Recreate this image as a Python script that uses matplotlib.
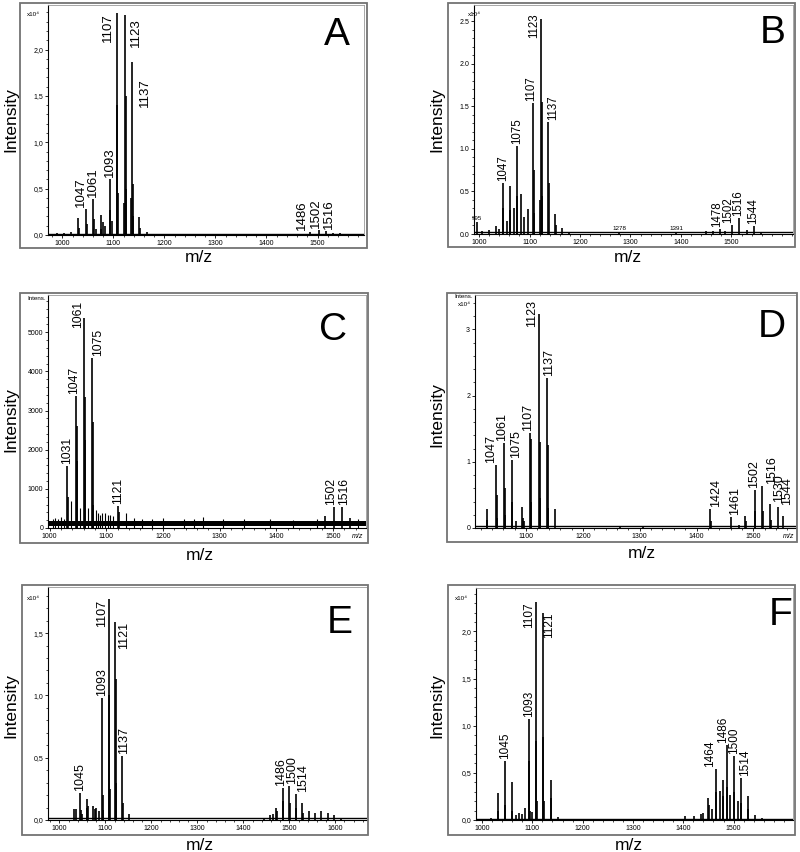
import matplotlib
matplotlib.use('Agg')
import matplotlib.pyplot as plt
from matplotlib.patches import Rectangle
from matplotlib.ticker import MultipleLocator, FixedLocator, FuncFormatter

plt.rcParams['font.family'] = ['Liberation Sans', 'DejaVu Sans']

# ---- data (intensity x10^4 except panel C, raw counts) ----
a_mz = [990, 1003, 1017, 1031, 1032, 1047, 1048, 1061, 1062, 1067, 1075, 1076, 1079, 1083,
        1093, 1094, 1097, 1107, 1108, 1109, 1121, 1123, 1124, 1125, 1135, 1137, 1138, 1139,
        1151, 1152, 1165, 1486, 1502, 1516, 1530, 1544]
a_int = [0.02, 0.02, 0.03, 0.18, 0.08, 0.28, 0.12, 0.39, 0.17, 0.06, 0.22, 0.07, 0.14, 0.10,
         0.60, 0.27, 0.15, 2.39, 1.40, 0.45, 0.35, 2.37, 1.50, 0.50, 0.40, 1.87, 0.55, 0.20,
         0.19, 0.08, 0.03, 0.03, 0.05, 0.04, 0.02, 0.02]
a_labels = [1047, 1061, 1093, 1107, 1123, 1137, 1486, 1502, 1516]

b_mz = [995, 1005, 1019, 1033, 1040, 1047, 1048, 1055, 1061, 1062, 1069, 1075, 1076, 1083,
        1089, 1097, 1107, 1108, 1109, 1121, 1123, 1124, 1125, 1137, 1138, 1151, 1152, 1165,
        1179, 1278, 1391, 1450, 1464, 1478, 1488, 1502, 1516, 1530, 1544, 1558]
b_int = [0.14, 0.03, 0.05, 0.09, 0.06, 0.60, 0.30, 0.15, 0.56, 0.28, 0.30, 1.03, 0.45, 0.47,
         0.20, 0.29, 1.54, 0.75, 0.25, 0.40, 2.52, 1.55, 0.45, 1.31, 0.60, 0.23, 0.10, 0.07,
         0.02, 0.02, 0.02, 0.04, 0.03, 0.06, 0.04, 0.10, 0.19, 0.05, 0.09, 0.02]
b_labels = [995, 1047, 1075, 1107, 1123, 1137, 1278, 1391, 1478, 1502, 1516, 1544]

c_mz = [1031, 1032, 1047, 1048, 1049, 1061, 1062, 1063, 1075, 1076, 1077, 1121, 1122,
        1486, 1502, 1516, 1530]
c_int = [1573, 800, 3359, 2600, 1700, 5357, 3350, 2250, 4337, 2700, 600, 550, 400,
         300, 530, 530, 250]
c_noise_mz = [1006, 1010, 1015, 1020, 1025, 1037, 1053, 1067, 1081, 1085, 1089, 1093, 1097,
              1103, 1107, 1111, 1135, 1149, 1163, 1181, 1199, 1237, 1255, 1271, 1305, 1343,
              1388, 1430, 1472, 1544]
c_noise_int = [240, 250, 230, 270, 240, 700, 500, 500, 450, 380, 330, 380, 380,
               320, 340, 300, 380, 250, 240, 230, 250, 230, 240, 270, 230, 220,
               220, 210, 240, 230]
c_band = (40, 190)
c_labels = [1031, 1047, 1061, 1075, 1121, 1502, 1516]

d_mz = [1031, 1032, 1047, 1048, 1049, 1061, 1062, 1063, 1075, 1076, 1083, 1093, 1094, 1097,
        1107, 1108, 1109, 1123, 1124, 1125, 1137, 1138, 1139, 1151, 1265, 1305, 1424, 1425,
        1461, 1474, 1486, 1487, 1502, 1503, 1516, 1517, 1530, 1531, 1544, 1552]
d_int = [0.28, 0.12, 0.95, 0.50, 0.15, 1.28, 0.60, 0.20, 1.03, 0.40, 0.10, 0.31, 0.15, 0.10,
         1.43, 1.35, 0.40, 3.24, 1.30, 0.45, 2.26, 1.25, 0.30, 0.28, 0.03, 0.02, 0.28, 0.10,
         0.16, 0.04, 0.18, 0.10, 0.58, 0.25, 0.63, 0.25, 0.37, 0.12, 0.31, 0.18]
d_labels = [1047, 1061, 1075, 1107, 1123, 1137, 1424, 1461, 1502, 1516, 1530, 1544]

e_mz = [1031, 1035, 1045, 1046, 1049, 1059, 1060, 1063, 1073, 1077, 1079, 1087, 1093, 1094,
        1095, 1107, 1108, 1109, 1121, 1122, 1123, 1137, 1138, 1151, 1444, 1458, 1464, 1472,
        1473, 1486, 1487, 1500, 1501, 1514, 1515, 1528, 1529, 1542, 1556, 1570, 1584, 1598, 1612]
e_int = [0.09, 0.09, 0.22, 0.08, 0.05, 0.17, 0.10, 0.11, 0.11, 0.09, 0.10, 0.07, 0.98, 0.20,
         0.08, 1.77, 1.00, 0.25, 1.59, 1.13, 0.30, 0.51, 0.14, 0.05, 0.02, 0.04, 0.05, 0.10,
         0.07, 0.26, 0.15, 0.27, 0.14, 0.21, 0.10, 0.14, 0.06, 0.07, 0.06, 0.07, 0.06, 0.04, 0.02]
e_labels = [1045, 1093, 1107, 1121, 1137, 1486, 1500, 1514]

f_mz = [1017, 1031, 1032, 1045, 1046, 1059, 1060, 1067, 1073, 1079, 1085, 1093, 1094, 1095,
        1099, 1107, 1108, 1109, 1121, 1122, 1123, 1137, 1138, 1151, 1404, 1422, 1436, 1440,
        1450, 1451, 1458, 1464, 1465, 1472, 1478, 1479, 1486, 1487, 1492, 1500, 1501, 1508,
        1514, 1515, 1528, 1529, 1542, 1556]
f_int = [0.02, 0.29, 0.10, 0.63, 0.16, 0.40, 0.10, 0.05, 0.07, 0.06, 0.13, 1.07, 0.63, 0.10,
         0.08, 2.31, 0.84, 0.20, 2.20, 0.88, 0.20, 0.42, 0.23, 0.03, 0.04, 0.04, 0.06, 0.07,
         0.23, 0.16, 0.12, 0.54, 0.30, 0.31, 0.42, 0.25, 0.79, 0.35, 0.26, 0.68, 0.30, 0.20,
         0.45, 0.18, 0.25, 0.12, 0.05, 0.02]
f_labels = [1045, 1093, 1107, 1121, 1464, 1486, 1500, 1514]

# ---- layout ----
W, H = 800, 852
fig = plt.figure(figsize=(W / 100, H / 100), dpi=100)
PT = 0.72  # points per pixel


def fx(x):
    return x / W


def fy(y):
    return 1 - y / H


comma = FuncFormatter(lambda v, _: ('%.1f' % v).replace('.', ','))
dot = FuncFormatter(lambda v, _: '%.1f' % v)
whole = FuncFormatter(lambda v, _: '%d' % v)

# label placement: mz -> (ha, va, dx px, dy px); default is centred above the peak
panels = [
    dict(mz=a_mz, inten=a_int, labels=a_labels, letter='A',
         frame=(20, 3, 367, 248), box=(48, 5, 364, 235), xlim=(972, 1591), ylim=2.48,
         xticks=range(1000, 1501, 100), ystep=0.5, yminor=0.1, fmt=comma, base=0.015,
         letter_xy=(337, 35), ylab=(11, 120), xlab=(199, 257), unit=[('x10⁴', 40, 15)],
         place={1047: ('right', 'bottom', 1, 2), 1107: ('right', 'top', -3, 0),
                1123: ('left', 'top', 5, -3), 1137: ('left', 'top', 7, -17),
                1486: ('center', 'bottom', -8, 2), 1502: ('center', 'bottom', -3, 2),
                1516: ('center', 'bottom', 3, 2)}, lsize=9.5),
    dict(mz=b_mz, inten=b_int, labels=b_labels, letter='B',
         frame=(448, 3, 795, 247), box=(474, 5, 793, 234), xlim=(990, 1622), ylim=2.69,
         xticks=range(1000, 1501, 100), ystep=0.5, yminor=0.1, fmt=dot, base=0.02,
         letter_xy=(773, 33), ylab=(437, 120), xlab=(628, 258), unit=[('x10⁴', 481, 14)],
         place={995: 'small', 1278: 'small', 1391: 'small',
                1107: ('center', 'bottom', -2, 2), 1123: ('right', 'top', -1, 6),
                1137: ('left', 'bottom', -1, 2), 1478: ('center', 'bottom', -3, 2),
                1502: ('center', 'bottom', -4.5, 2), 1516: ('center', 'bottom', -1.5, 2)},
         lsize=8.3),
    dict(mz=c_mz, inten=c_int, labels=c_labels, letter='C',
         frame=(20, 293, 368, 543), box=(48, 295, 366, 528), xlim=(997, 1558), ylim=5950,
         xticks=range(1000, 1501, 100), ystep=1000, yminor=200, fmt=whole, base=None,
         letter_xy=(333, 330), ylab=(11, 420), xlab=(200, 555), unit=[('Intens.', 46, 299)],
         place={1047: ('center', 'bottom', -2, 2), 1061: ('right', 'bottom', 0, -10),
                1075: ('left', 'bottom', 0, 2), 1502: ('center', 'bottom', -3.5, 2),
                1516: ('center', 'bottom', 1.5, 2)}, lsize=8.7, tag=(358, 536)),
    dict(mz=d_mz, inten=d_int, labels=d_labels, letter='D',
         frame=(447, 293, 797, 542), box=(475, 295, 796, 528), xlim=(1010, 1575), ylim=3.52,
         xticks=range(1100, 1501, 100), ystep=1, yminor=0.2, fmt=whole, base=0.03,
         letter_xy=(772, 327), ylab=(437, 415), xlab=(642, 553),
         unit=[('Intens.', 473, 296), ('x10⁴', 471, 304)],
         place={1047: ('center', 'bottom', -5, 2), 1061: ('center', 'bottom', -2, 2),
                1075: ('center', 'bottom', 4.5, 2), 1107: ('center', 'bottom', -2, 2),
                1123: ('right', 'center', -1, 0), 1137: ('center', 'bottom', 1.5, 2),
                1424: ('center', 'bottom', 6, 2), 1461: ('center', 'bottom', 4, 2),
                1516: ('center', 'bottom', 9.5, 2), 1530: ('center', 'bottom', 8.5, 2),
                1544: ('center', 'bottom', 9, 2)}, lsize=9.0, tag=(789, 536)),
    dict(mz=e_mz, inten=e_int, labels=e_labels, letter='E',
         frame=(22, 585, 368, 835), box=(48, 587, 367, 820), xlim=(975, 1669), ylim=1.87,
         xticks=range(1000, 1601, 100), ystep=0.5, yminor=0.1, fmt=comma, base=0.015,
         letter_xy=(340, 623), ylab=(11, 706), xlab=(200, 845), unit=[('x10⁴', 40, 599)],
         place={1107: ('right', 'top', -1, 0), 1121: ('left', 'top', 3, 0),
                1137: ('center', 'bottom', 1.5, 2), 1486: ('center', 'bottom', -1.5, 2),
                1500: ('center', 'bottom', 2.5, 2), 1514: ('center', 'bottom', 7, 2)},
         lsize=9.0),
    dict(mz=f_mz, inten=f_int, labels=f_labels, letter='F',
         frame=(448, 585, 795, 835), box=(476, 588, 793, 820), xlim=(988, 1618), ylim=2.46,
         xticks=range(1000, 1501, 100), ystep=0.5, yminor=0.1, fmt=comma, base=0.015,
         letter_xy=(781, 615), ylab=(437, 706), xlab=(629, 845), unit=[('x10⁴', 468, 599)],
         place={1107: ('right', 'top', -1, 0), 1121: ('left', 'top', 0, 0),
                1464: ('center', 'bottom', -5.5, 2), 1486: ('center', 'bottom', -4, 2),
                1514: ('center', 'bottom', 4, 2)}, lsize=8.5),
]

for p in panels:
    x0, y0, x1, y1 = p['frame']
    fig.add_artist(Rectangle((fx(x0), fy(y1)), fx(x1 - x0), (y1 - y0) / H,
                             transform=fig.transFigure, fill=False, ec='0.45', lw=1.3))
    bx0, by0, bx1, by1 = p['box']
    ax = fig.add_axes([fx(bx0), fy(by1), fx(bx1 - bx0), (by1 - by0) / H])
    ax.set_xlim(*p['xlim'])
    ax.set_ylim(0, p['ylim'])

    if p['base'] is not None:
        ax.axhline(p['base'], color='k', lw=1.0)
    else:
        ax.fill_between(p['xlim'], c_band[0], c_band[1], color='k', lw=0)
        ax.vlines(c_noise_mz, 0, c_noise_int, color='k', lw=0.8)
    ax.vlines(p['mz'], 0, p['inten'], color='k', lw=1.2)

    for m in p['labels']:
        h = p['inten'][p['mz'].index(m)]
        pl = p['place'].get(m, ('center', 'bottom', 0, 2))
        if pl == 'small':
            ax.annotate(str(m), (m, h), xytext=(0, 1), textcoords='offset points',
                        ha='center', va='bottom', fontsize=4.5)
            continue
        ha, va, dx, dy = pl
        ax.annotate(str(m), (m, h), xytext=(dx * PT, dy * PT), textcoords='offset points',
                    rotation=90, ha=ha, va=va, fontsize=p['lsize'])

    ax.xaxis.set_major_locator(FixedLocator(list(p['xticks'])))
    ax.xaxis.set_minor_locator(MultipleLocator(20))
    ax.yaxis.set_major_locator(MultipleLocator(p['ystep']))
    ax.yaxis.set_minor_locator(MultipleLocator(p['yminor']))
    ax.yaxis.set_major_formatter(p['fmt'])
    ax.tick_params(which='major', direction='out', length=2.5, width=0.6, labelsize=5, pad=1)
    ax.tick_params(which='minor', direction='out', length=1.3, width=0.5)
    for sp in ('left', 'bottom'):
        ax.spines[sp].set_linewidth(0.8)
    for sp in ('top', 'right'):
        ax.spines[sp].set_color('0.6')
        ax.spines[sp].set_linewidth(0.6)

    lx, ly = p['letter_xy']
    fig.text(fx(lx), fy(ly), p['letter'], fontsize=28, ha='center', va='center')
    fig.text(fx(p['ylab'][0]), fy(p['ylab'][1]), 'Intensity', rotation=90,
             ha='center', va='center', fontsize=12.5)
    fig.text(fx(p['xlab'][0]), fy(p['xlab'][1]), 'm/z', ha='center', va='center',
             fontsize=12.5)
    for t, ux, uy in p['unit']:
        fig.text(fx(ux), fy(uy), t, ha='right', va='center', fontsize=4.5)
    if 'tag' in p:
        fig.text(fx(p['tag'][0]), fy(p['tag'][1]), 'm/z', ha='center', va='center',
                 fontsize=5, style='italic')

fig.savefig('out.png', dpi=100)
